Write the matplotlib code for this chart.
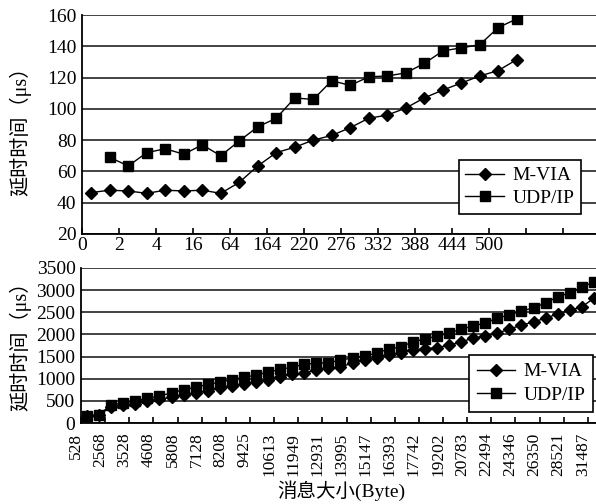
import matplotlib.pyplot as plt
from matplotlib.transforms import ScaledTranslation

plt.rcParams['font.family'] = ['Liberation Serif', 'Noto Sans CJK SC']
plt.rcParams['font.size'] = 14

# top chart: small messages
top_labels = ['0', '2', '4', '16', '64', '164', '220', '276', '332', '388', '444', '500', '', '']
mvia_top = [46.5, 48, 47.5, 46, 48, 47.5, 48, 46, 53, 63.5, 72, 75.5,
            80, 83, 88, 94, 96, 100.5, 107, 112, 116.5, 121, 124.5, 131.5]
udp_top = [None, 69, 63.5, 72, 74.5, 71, 77, 70, 79.5, 88.5, 94, 107,
           106, 118, 115, 120.5, 121, 123, 129, 137, 139, 141, 152, 157.5]

# bottom chart: large messages
bottom_labels = ['528', '2568', '3528', '4608', '5808', '7128', '8208', '9425',
                 '10613', '11949', '12931', '13995', '15147', '16393', '17742',
                 '19202', '20783', '22494', '24346', '26350', '28521', '31487']
mvia_bot = [150, 180, 370, 400, 440, 490, 540, 580, 630, 680, 730, 780, 840,
            880, 920, 980, 1040, 1100, 1130, 1200, 1240, 1270, 1350, 1420,
            1470, 1540, 1580, 1650, 1680, 1700, 1760, 1830, 1920, 1960, 2030,
            2120, 2210, 2280, 2370, 2460, 2550, 2620, 2820]
udp_bot = [160, 190, 410, 450, 500, 560, 610, 680, 750, 810, 870, 920, 980,
           1030, 1080, 1150, 1210, 1260, 1330, 1350, 1360, 1420, 1470, 1510,
           1580, 1670, 1720, 1830, 1900, 1960, 2030, 2120, 2190, 2260, 2370,
           2440, 2530, 2600, 2710, 2850, 2940, 3070, 3180]

fig = plt.figure(figsize=(5.96, 5.04), dpi=100)
ax1 = fig.add_axes([82/596, 1-234/504, 518/596, 219/504])
ax2 = fig.add_axes([81/596, 1-423/504, 531/596, 155/504])


def style(ax):
    ax.grid(axis='y', color='#222222', linewidth=1.2)
    ax.set_axisbelow(True)
    for s in ['top', 'right']:
        ax.spines[s].set_visible(False)
    for s in ['left', 'bottom']:
        ax.spines[s].set_linewidth(1.3)
    ax.tick_params(axis='y', length=0, pad=4)
    ax.tick_params(axis='x', direction='in', length=4, width=1.2)


# top
x1 = [i + 0.5 for i in range(len(mvia_top))]
ax1.plot(x1, mvia_top, 'k-', marker='D', markersize=6.5, linewidth=1, label='M-VIA')
ax1.plot(x1, udp_top, 'k-', marker='s', markersize=7, linewidth=1, label='UDP/IP')
ax1.set_xlim(0, 28)
ax1.set_ylim(20, 160)
ax1.set_yticks(range(20, 161, 20))
ax1.set_xticks(range(0, 28, 2))
ax1.set_xticklabels(top_labels)
style(ax1)
ax1.tick_params(axis='x', pad=2)
leg = ax1.legend(loc='upper right', bbox_to_anchor=(0.963, 0.338), borderaxespad=0,
                 fancybox=False, edgecolor='black', framealpha=1,
                 handlelength=2.0, handletextpad=0.4, labelspacing=0.25, borderpad=0.35)
leg.get_frame().set_linewidth(1.2)

# bottom
x2 = [i + 0.5 for i in range(len(mvia_bot))]
ax2.plot(x2, mvia_bot, 'k-', marker='D', markersize=6.5, linewidth=1, label='M-VIA')
ax2.plot(x2, udp_bot, 'k-', marker='s', markersize=7, linewidth=1, label='UDP/IP')
ax2.set_xlim(0, 44)
ax2.set_ylim(0, 3500)
ax2.set_yticks(range(0, 3501, 500))
ax2.set_xticks(range(0, 44, 2))
ax2.set_xticklabels(bottom_labels, rotation=90, fontsize=12.5)
style(ax2)
ax2.tick_params(axis='x', pad=7)
for lab in ax2.get_xticklabels():
    lab.set_transform(lab.get_transform() + ScaledTranslation(-0.05, 0, fig.dpi_scale_trans))
leg2 = ax2.legend(loc='upper right', bbox_to_anchor=(0.964, 0.439), borderaxespad=0,
                  fancybox=False, edgecolor='black', framealpha=1,
                  handlelength=2.0, handletextpad=0.4, labelspacing=0.3, borderpad=0.4)
leg2.get_frame().set_linewidth(1.2)

fig.text(0.034, 1-126/504, '延时时间（μs）', rotation=90, ha='center', va='center', fontsize=14.5)
fig.text(0.034, 1-341/504, '延时时间（μs）', rotation=90, ha='center', va='center', fontsize=14.5)
fig.text(341/596, 1-491/504, '消息大小(Byte)', ha='center', va='center', fontsize=14)

fig.savefig('out.png', dpi=100)
